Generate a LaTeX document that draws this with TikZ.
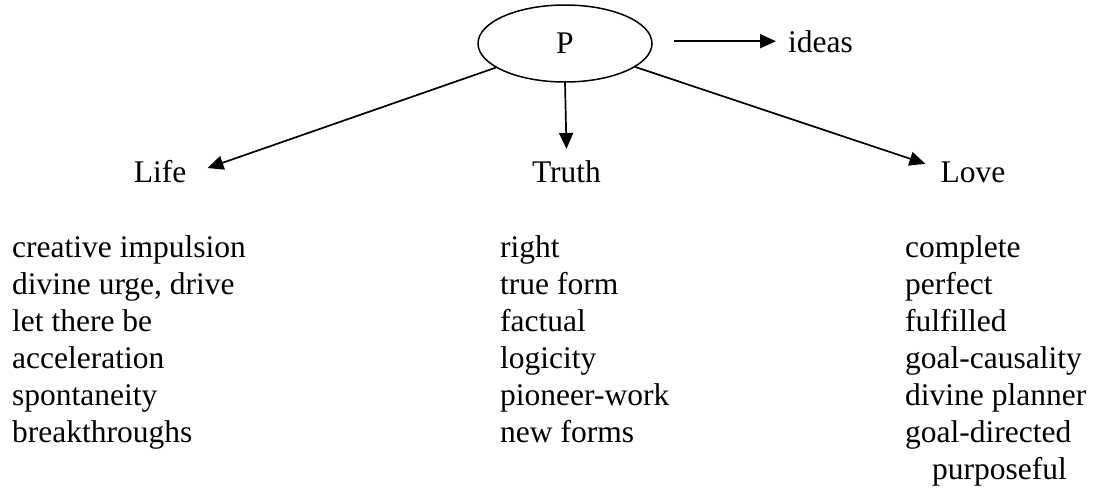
\documentclass[tikz,border=0pt]{standalone}
\usepackage{fontspec}
\setmainfont{Liberation Serif}
\usetikzlibrary{arrows.meta,shapes.geometric}
\begin{document}
\begin{tikzpicture}[x=1pt,y=-1pt,
  txt/.style={font=\fontsize{31.5}{37}\selectfont, inner sep=0pt},
  item/.style={txt, anchor=base west},
  conn/.style={line width=1.7pt, -{Triangle[length=16pt,width=14pt]}}]
\useasboundingbox (0,0) rectangle (1094,488);
\node[draw, ellipse, line width=1.5pt, minimum width=174pt, minimum height=77pt, inner sep=0pt, font=\fontsize{31.5}{37}\selectfont] (P) at (565,43.5) {P};
\node[txt, anchor=base west, inner xsep=12pt, xshift=-12pt] (ideas) at (788,52) {ideas};
\node[txt, anchor=base, inner xsep=21pt] (Life) at (160,182) {Life};
\node[txt, anchor=base, inner ysep=11pt] (Truth) at (566.5,182) {Truth};
\node[txt, anchor=base, inner xsep=15pt] (Love) at (973,182) {Love};
\draw[conn, shorten <=21pt] (P.east |- ideas.west) -- (ideas.west);
\draw[conn] (P) -- ([yshift=3pt]Life.east);
\draw[conn] (P.south) -- (Truth.north);
\draw[conn] (P) -- ([yshift=8pt]Love.west);
\foreach \t [count=\i from 0] in {creative impulsion, {divine urge, drive}, let there be, acceleration, spontaneity, breakthroughs}
  \node[item] (L\i) at (12,257+37*\i) {\t};
\foreach \t [count=\i from 0] in {right, true form, factual, logicity, pioneer-work, new forms}
  \node[item] (T\i) at (500,257+37*\i) {\t};
\foreach \t [count=\i from 0] in {complete, perfect, fulfilled, goal-causality, divine planner, goal-directed}
  \node[item] (V\i) at (905,257+37*\i) {\t};
\node[item] (V6) at (932,479) {purposeful};
\end{tikzpicture}
\end{document}
